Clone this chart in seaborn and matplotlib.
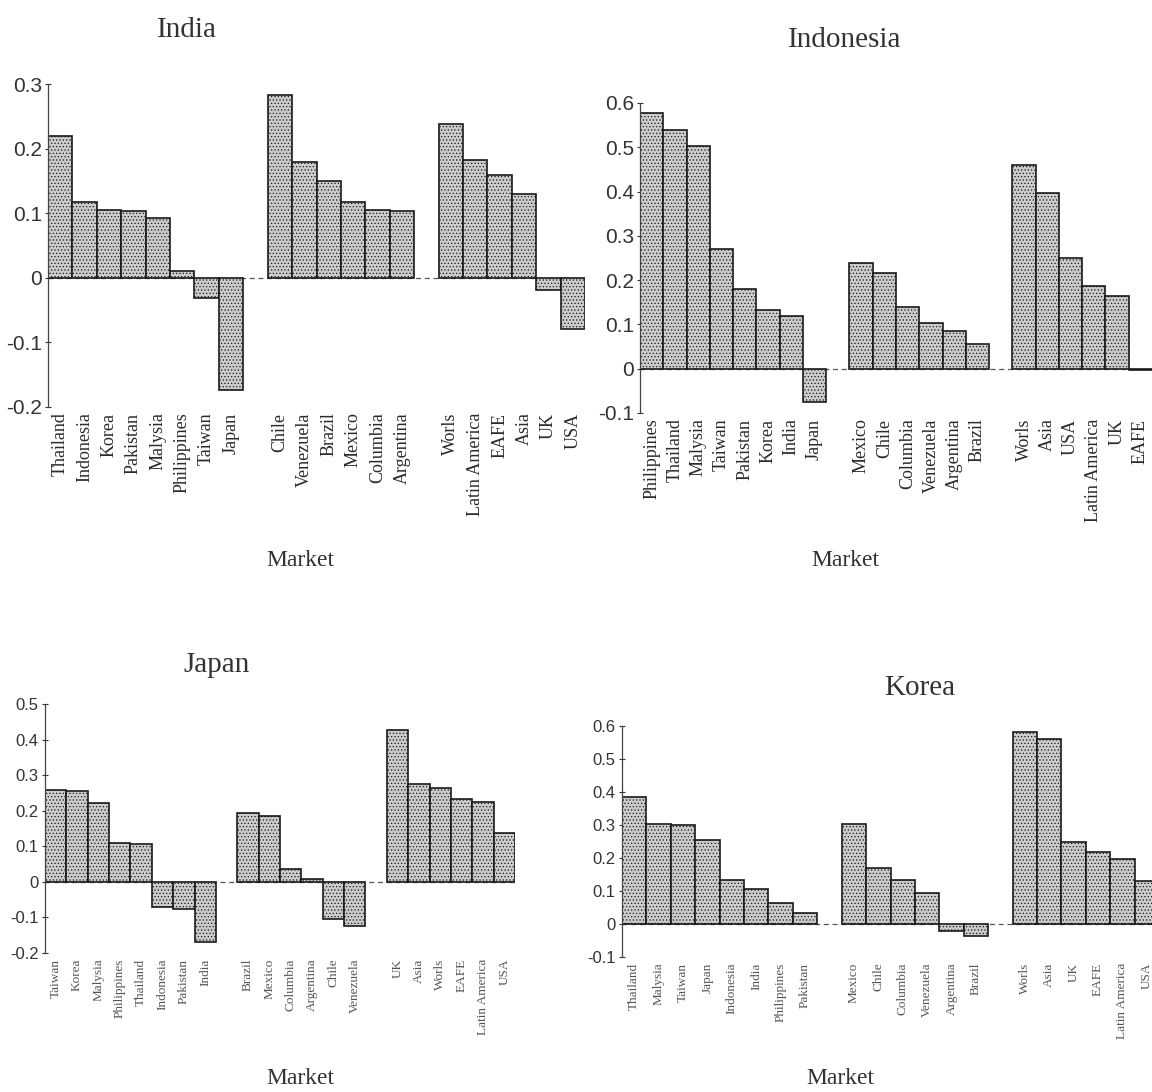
import matplotlib
matplotlib.use("Agg")
import matplotlib.pyplot as plt
import seaborn as sns
import pandas as pd
from matplotlib.ticker import FuncFormatter

sns.set_style("white")
matplotlib.rcParams['axes.unicode_minus'] = False
matplotlib.rcParams['font.family'] = ['Liberation Sans', 'DejaVu Sans']
matplotlib.rcParams['hatch.linewidth'] = 0.5

# ---- data ----
india_asia = ['Thailand', 'Indonesia', 'Korea', 'Pakistan', 'Malysia', 'Philippines', 'Taiwan', 'Japan']
india_asia_v = [0.220, 0.118, 0.105, 0.104, 0.093, 0.011, -0.032, -0.173]
india_latin = ['Chile', 'Venezuela', 'Brazil', 'Mexico', 'Columbia', 'Argentina']
india_latin_v = [0.283, 0.179, 0.150, 0.118, 0.105, 0.103]
india_world = ['Worls', 'Latin America', 'EAFE', 'Asia', 'UK', 'USA']
india_world_v = [0.238, 0.183, 0.159, 0.130, -0.019, -0.080]

indo_asia = ['Philippines', 'Thailand', 'Malysia', 'Taiwan', 'Pakistan', 'Korea', 'India', 'Japan']
indo_asia_v = [0.578, 0.540, 0.502, 0.271, 0.180, 0.133, 0.118, -0.075]
indo_latin = ['Mexico', 'Chile', 'Columbia', 'Venezuela', 'Argentina', 'Brazil']
indo_latin_v = [0.238, 0.217, 0.139, 0.103, 0.085, 0.056]
indo_world = ['Worls', 'Asia', 'USA', 'Latin America', 'UK', 'EAFE']
indo_world_v = [0.459, 0.397, 0.250, 0.186, 0.165, -0.003]

japan_asia = ['Taiwan', 'Korea', 'Malysia', 'Philippines', 'Thailand', 'Indonesia', 'Pakistan', 'India']
japan_asia_v = [0.257, 0.255, 0.222, 0.108, 0.106, -0.072, -0.075, -0.170]
japan_latin = ['Brazil', 'Mexico', 'Columbia', 'Argentina', 'Chile', 'Venezuela']
japan_latin_v = [0.194, 0.185, 0.037, 0.008, -0.105, -0.123]
japan_world = ['UK', 'Asia', 'Worls', 'EAFE', 'Latin America', 'USA']
japan_world_v = [0.427, 0.275, 0.263, 0.232, 0.224, 0.138]

korea_asia = ['Thailand', 'Malysia', 'Taiwan', 'Japan', 'Indonesia', 'India', 'Philippines', 'Pakistan']
korea_asia_v = [0.384, 0.303, 0.299, 0.255, 0.132, 0.106, 0.065, 0.033]
korea_latin = ['Mexico', 'Chile', 'Columbia', 'Venezuela', 'Argentina', 'Brazil']
korea_latin_v = [0.304, 0.171, 0.134, 0.095, -0.022, -0.035]
korea_world = ['Worls', 'Asia', 'UK', 'EAFE', 'Latin America', 'USA']
korea_world_v = [0.582, 0.562, 0.249, 0.217, 0.197, 0.130]

W, H = 1152, 1092
fig = plt.figure(figsize=(W / 100, H / 100), dpi=100)
fig.patch.set_facecolor('white')


def fmt(v, pos):
    return '0' if abs(v) < 1e-9 else '%.1f' % v


def panel(rect, groups, ylim, yticks, ytick_fs, xlab_fs, xlab_color):
    ax = fig.add_axes(rect)
    names, vals, order = [], [], []
    for i, (n, v) in enumerate(groups):
        names += n
        vals += v
        order += n
        if i < len(groups) - 1:
            order.append(' ' * (i + 1))
    df = pd.DataFrame({'market': names, 'value': vals})
    ax.axhline(0, color='#555555', lw=0.9, ls=(0, (4, 3)), zorder=0)
    sns.barplot(data=df, x='market', y='value', order=order, ax=ax,
                width=1.0, color='#cbcbcb', saturation=1,
                edgecolor='#1a1a1a', linewidth=1.2, zorder=2)
    for p in ax.patches:
        p.set_hatch('.....')
    ax.set_xlim(-0.5, len(order) - 0.5)
    ax.set_ylim(*ylim)
    ax.set_yticks(yticks)
    ax.yaxis.set_major_formatter(FuncFormatter(fmt))
    for s in ['top', 'right', 'bottom']:
        ax.spines[s].set_visible(False)
    ax.spines['left'].set_color('#444444')
    ax.spines['left'].set_linewidth(0.9)
    ax.tick_params(axis='y', direction='inout', length=5, width=0.8,
                   colors='#333333', labelsize=ytick_fs, pad=2, left=True)
    ax.tick_params(axis='x', length=0, pad=4)
    ax.set_xticks(range(len(order)))
    ax.set_xticklabels([o if o.strip() else '' for o in order], rotation=90,
                       fontsize=xlab_fs, family='Liberation Serif',
                       color=xlab_color, va='top')
    ax.set_xlabel('')
    ax.set_ylabel('')
    ax.patch.set_alpha(0)
    return ax


panel([48 / W, 1 - 407 / H, 537 / W, 323 / H],
      [(india_asia, india_asia_v), (india_latin, india_latin_v), (india_world, india_world_v)],
      (-0.2, 0.3), [-0.2, -0.1, 0, 0.1, 0.2, 0.3], 15, 13, '#2a2a2a')

panel([640 / W, 1 - 413 / H, 512 / W, 310 / H],
      [(indo_asia, indo_asia_v), (indo_latin, indo_latin_v), (indo_world, indo_world_v)],
      (-0.1, 0.6), [-0.1, 0, 0.1, 0.2, 0.3, 0.4, 0.5, 0.6], 15, 13, '#2a2a2a')

panel([45 / W, 1 - 953 / H, 470 / W, 249 / H],
      [(japan_asia, japan_asia_v), (japan_latin, japan_latin_v), (japan_world, japan_world_v)],
      (-0.2, 0.5), [-0.2, -0.1, 0, 0.1, 0.2, 0.3, 0.4, 0.5], 12, 9.5, '#555555')

panel([622 / W, 1 - 957 / H, 537 / W, 231 / H],
      [(korea_asia, korea_asia_v), (korea_latin, korea_latin_v), (korea_world, korea_world_v)],
      (-0.1, 0.6), [-0.1, 0, 0.1, 0.2, 0.3, 0.4, 0.5, 0.6], 12, 9.5, '#555555')

serif = 'Liberation Serif'
fig.text(187 / W, 1 - 30 / H, 'India', ha='center', va='center', fontsize=21, family=serif, color='#333333')
fig.text(845 / W, 1 - 40 / H, 'Indonesia', ha='center', va='center', fontsize=21, family=serif, color='#333333')
fig.text(217 / W, 1 - 665 / H, 'Japan', ha='center', va='center', fontsize=21, family=serif, color='#333333')
fig.text(920 / W, 1 - 688 / H, 'Korea', ha='center', va='center', fontsize=21, family=serif, color='#333333')
for x, y in [(300, 560), (845, 560), (300, 1078), (840, 1078)]:
    fig.text(x / W, 1 - y / H, 'Market', ha='center', va='center', fontsize=17, family=serif, color='#333333')

fig.savefig('out.png', dpi=100, facecolor='white')
